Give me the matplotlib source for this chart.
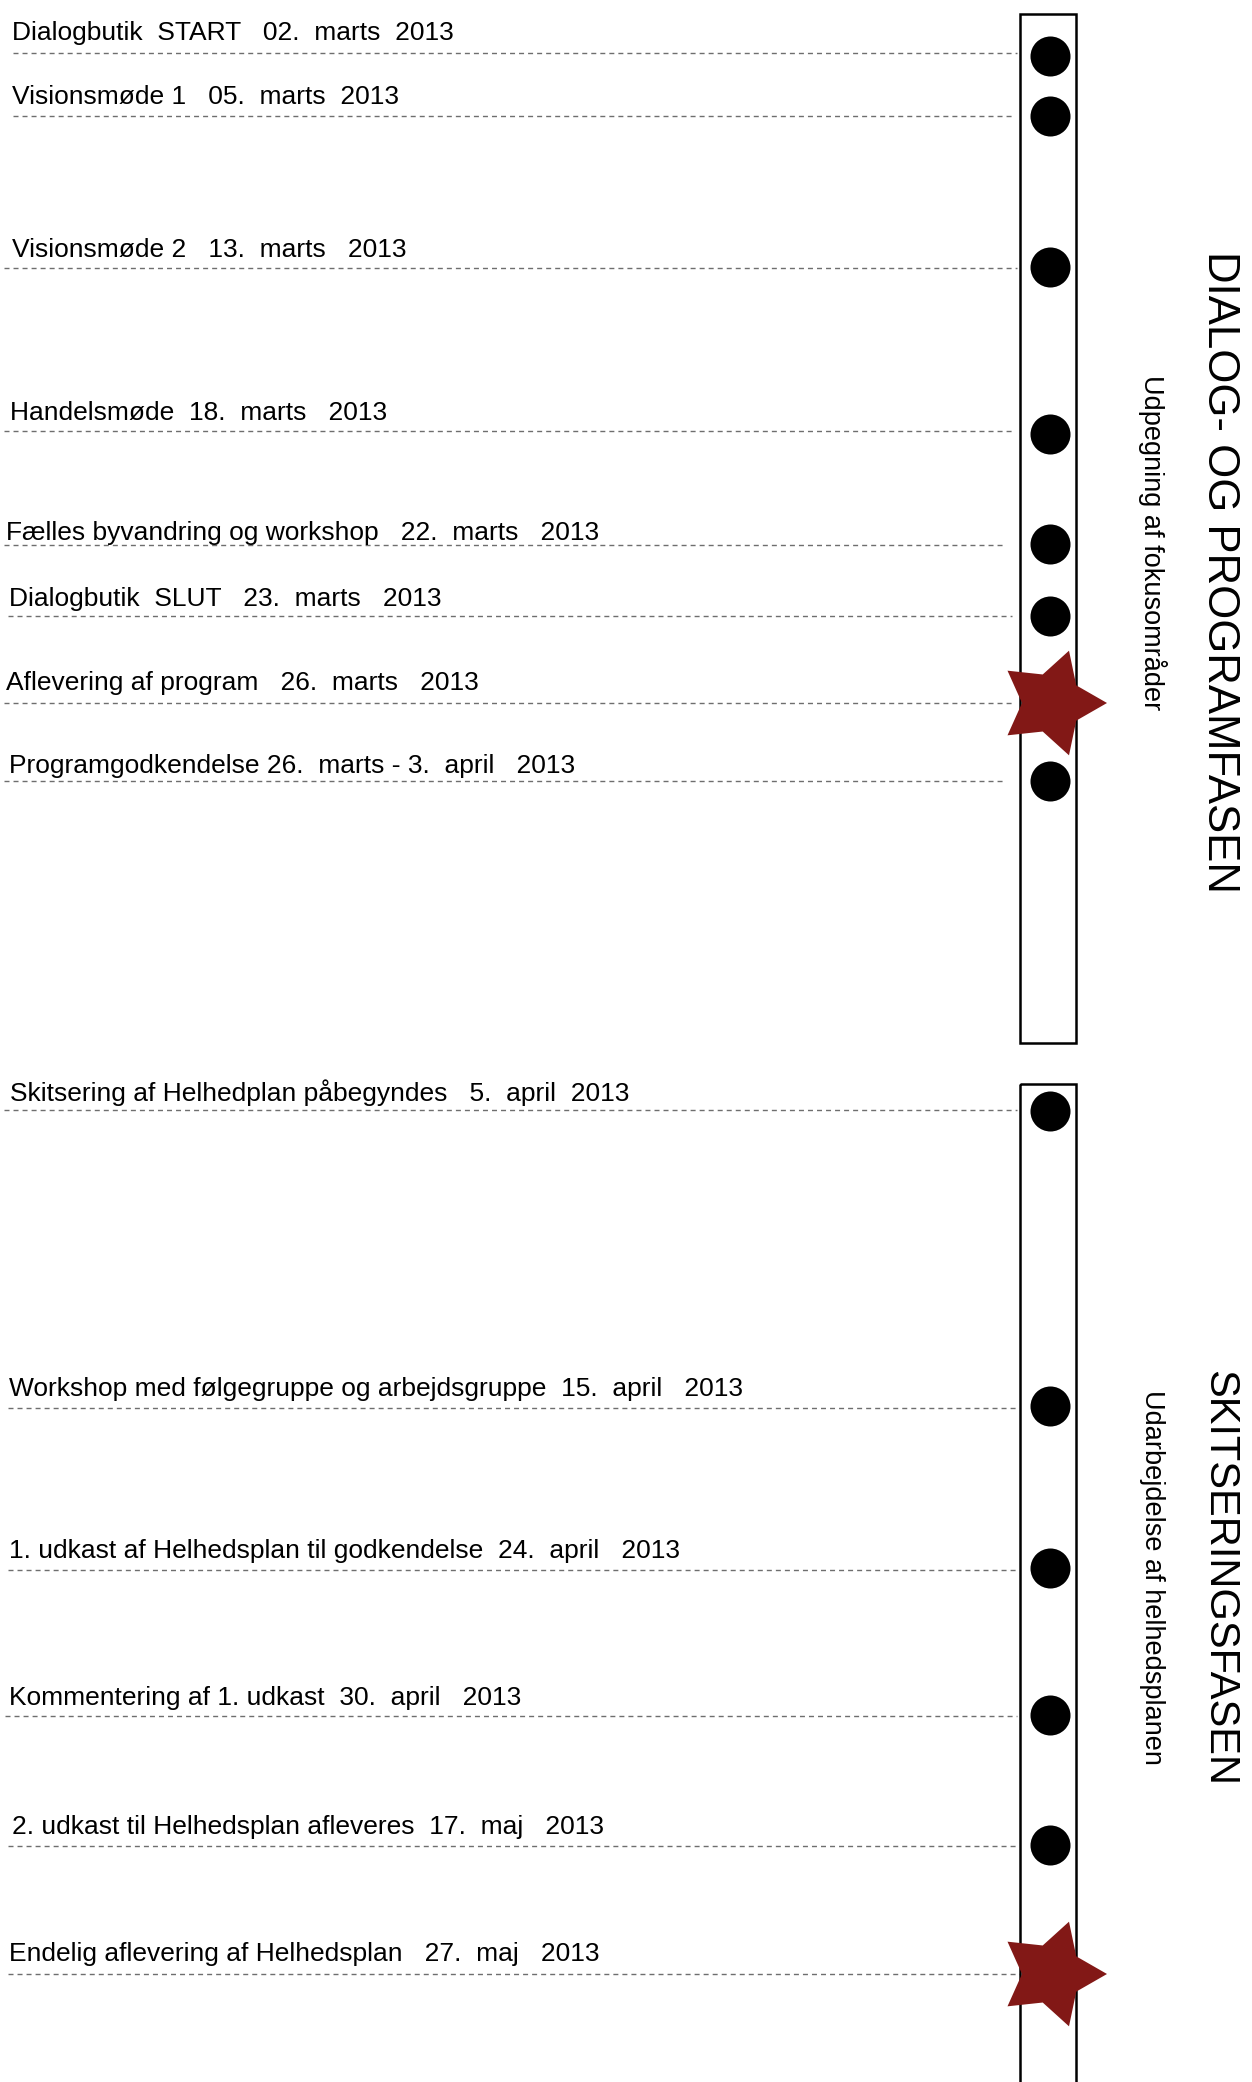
import numpy as np
import matplotlib.pyplot as plt
from matplotlib.patches import Rectangle, Polygon

# ---- data (pixel coordinates of the 1252x2082 page, y downwards) ----
labels = [
    "Dialogbutik  START   02.  marts  2013",
    "Visionsmøde 1   05.  marts  2013",
    "Visionsmøde 2   13.  marts   2013",
    "Handelsmøde  18.  marts   2013",
    "Fælles byvandring og workshop   22.  marts   2013",
    "Dialogbutik  SLUT   23.  marts   2013",
    "Aflevering af program   26.  marts   2013",
    "Programgodkendelse 26.  marts - 3.  april   2013",
    "Skitsering af Helhedplan påbegyndes   5.  april  2013",
    "Workshop med følgegruppe og arbejdsgruppe  15.  april   2013",
    "1. udkast af Helhedsplan til godkendelse  24.  april   2013",
    "Kommentering af 1. udkast  30.  april   2013",
    "2. udkast til Helhedsplan afleveres  17.  maj   2013",
    "Endelig aflevering af Helhedsplan   27.  maj   2013",
]
line_y = [53, 116, 268, 431, 545, 616, 703, 781, 1110, 1408, 1570, 1716, 1846, 1974]
marker_y = [56, 116, 267, 434, 544, 616, 703, 781, 1111, 1406, 1568, 1715, 1845, 1974]
text_y = [40, 104, 257, 420, 540, 606, 690, 773, 1101, 1396, 1558, 1705, 1834, 1961]
text_x = [12, 12, 12, 10, 6, 9, 6, 9, 10, 9, 9, 9, 12, 9]
line_x0 = [13, 13, 4, 4, 4, 8, 4, 4, 4, 8, 8, 5, 8, 8]
line_x1 = [1017, 1013, 1017, 1015, 1006, 1012, 1014, 1004, 1017, 1017, 1017, 1017, 1017, 1020]
marker = ["dot"] * 6 + ["star", "dot", "dot", "dot", "dot", "dot", "dot", "star"]

phase_titles = ["DIALOG- OG PROGRAMFASEN", "SKITSERINGSFASEN"]
phase_subtitles = ["Udpegning af fokusområder", "Udarbejdelse af helhedsplanen"]
title_center_y = [572, 1578]
subtitle_center_y = [543, 1577]
title_size = [31.5, 30]
box_top = [14, 1084]
box_bottom = [1043, 2100]

STAR_RED = "#821816"
FONT = ["Liberation Sans", "DejaVu Sans"]
W, H = 1252, 2082


def star_vertices(cx, cy, r_out=55, r_in=30, n=5):
    ang = np.arange(2 * n) * np.pi / n
    rad = np.where(np.arange(2 * n) % 2 == 0, r_out, r_in)
    return np.column_stack([cx + rad * np.cos(ang), cy + rad * np.sin(ang)])


fig = plt.figure(figsize=(W / 100, H / 100), dpi=100)
ax = fig.add_axes([0, 0, 1, 1])
ax.set_xlim(0, W)
ax.set_ylim(H, 0)
ax.axis("off")

# timeline boxes
for top, bot in zip(box_top, box_bottom):
    ax.add_patch(Rectangle((1020, top), 56, bot - top, fill=False,
                           edgecolor="black", lw=1.8, zorder=2))

# dashed leader lines + labels
for lab, ly, ty, tx, x0, x1 in zip(labels, line_y, text_y, text_x, line_x0, line_x1):
    ax.plot([x0, x1], [ly, ly], color="#6e6e6e", lw=1.0,
            ls=(0, (3.6, 2.9)), zorder=1)
    ax.text(tx, ty, lab, fontsize=19, family=FONT,
            ha="left", va="baseline", color="black")

# event markers
dots = [y for y, m in zip(marker_y, marker) if m == "dot"]
ax.scatter([1050] * len(dots), dots, s=830, color="black", zorder=3, lw=0)
for y, m in zip(marker_y, marker):
    if m == "star":
        ax.add_patch(Polygon(star_vertices(1052, y), closed=True,
                             facecolor=STAR_RED, edgecolor="none", zorder=4))

# phase titles (vertical)
for title, sub, ty, sy, fs in zip(phase_titles, phase_subtitles,
                                  title_center_y, subtitle_center_y, title_size):
    ax.text(1219, ty, title, rotation=270, fontsize=fs, family=FONT,
            ha="center", va="center")
    ax.text(1152, sy, sub, rotation=270, fontsize=19.5, family=FONT,
            ha="center", va="center")

fig.savefig("out.png", dpi=100)
plt.close(fig)
